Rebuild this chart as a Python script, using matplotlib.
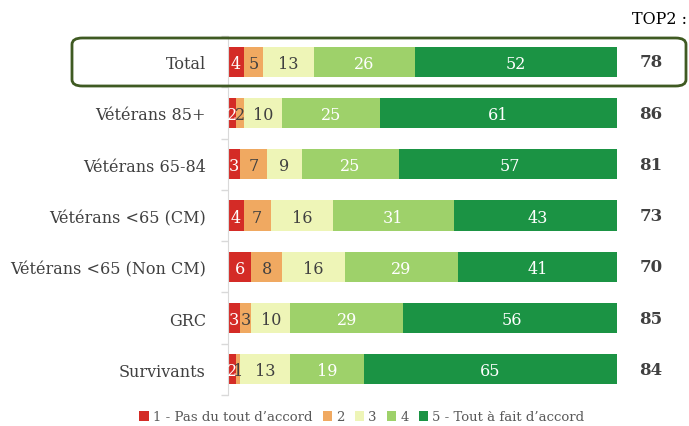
import matplotlib.pyplot as plt
from matplotlib.patches import FancyBboxPatch, Patch
import numpy as np

plt.rcParams['font.family'] = ['DejaVu Serif']

groupes = ["Total", "Vétérans 85+", "Vétérans 65-84", "Vétérans <65 (CM)",
           "Vétérans <65 (Non CM)", "GRC", "Survivants"]
v1 = [4, 2, 3, 4, 6, 3, 2]
v2 = [5, 2, 7, 7, 8, 3, 1]
v3 = [13, 10, 9, 16, 16, 10, 13]
v4 = [26, 25, 25, 31, 29, 29, 19]
v5 = [52, 61, 57, 43, 41, 56, 65]
top2 = [78, 86, 81, 73, 70, 85, 84]

legendes = ["1 - Pas du tout d’accord", "2", "3", "4", "5 - Tout à fait d’accord"]
couleurs = ["#D42B26", "#F0A961", "#EEF5B7", "#9ED16A", "#1B9344"]
txt_col = ["white", "#404040", "#404040", "white", "white"]

W, H = 689, 427
fig = plt.figure(figsize=(W / 100, H / 100), dpi=100)
ax = fig.add_axes([228 / W, 1 - 396 / H, (617 - 228) / W, (396 - 37) / H])

y = np.arange(len(groupes))
series = [v1, v2, v3, v4, v5]
left = np.zeros(len(groupes))
for vals, col, tc in zip(series, couleurs, txt_col):
    vals = np.array(vals, dtype=float)
    ax.barh(y, vals, left=left, height=0.59, color=col, edgecolor="none")
    for yi, l, v in zip(y, left, vals):
        ax.text(l + v / 2, yi + 0.03, f"{int(v)}", ha="center", va="center",
                color=tc, fontsize=11.5)
    left += vals

ax.set_xlim(0, 100)
ax.set_ylim(len(groupes) - 0.5, -0.5)
ax.set_xticks([])
ax.set_yticks(y)
ax.set_yticklabels(groupes, fontsize=11.5, color="#404040")
ax.tick_params(axis="y", which="major", length=0, pad=16)
ax.set_yticks(np.arange(-0.5, len(groupes), 1), minor=True)
ax.tick_params(axis="y", which="minor", length=5, color="#D9D9D9", width=1)
for s in ["top", "right", "bottom"]:
    ax.spines[s].set_visible(False)
ax.spines["left"].set_color("#D9D9D9")

# TOP2
for yi, t in zip(y, top2):
    fig.text(651 / W, 1 - (63 + 51.2 * yi) / H, str(t), ha="center", va="center",
             fontsize=12, fontweight="bold", color="#404040")
fig.text(687 / W, 1 - 20 / H, "TOP2 :", ha="right", va="center", fontsize=11.5,
         color="black")

# cadre autour du Total
box = FancyBboxPatch((72 / W, 1 - 87 / H), (686 - 72) / W, (87 - 39) / H,
                     boxstyle="round,pad=0,rounding_size=0.015",
                     transform=fig.transFigure, fill=False,
                     edgecolor="#3F5A22", linewidth=2)
fig.patches.append(box)

handles = [Patch(facecolor=c, edgecolor="none") for c in couleurs]
fig.legend(handles, legendes, loc="center", bbox_to_anchor=(362 / W, 1 - 418 / H),
           ncol=5, frameon=False, fontsize=9.5, handlelength=0.7, handleheight=0.7,
           handletextpad=0.3, columnspacing=0.8, labelcolor="#595959")

fig.savefig("out.png", dpi=100)
